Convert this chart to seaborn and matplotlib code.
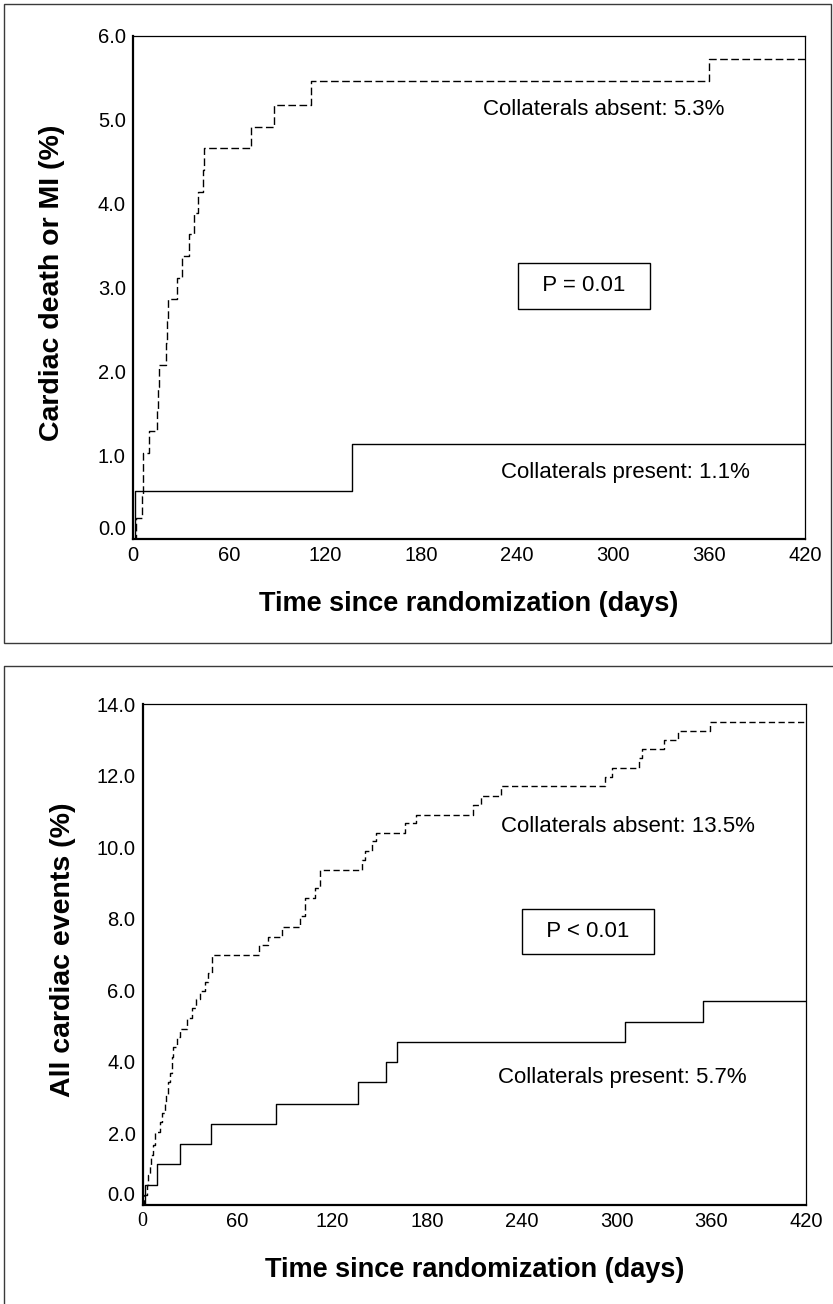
import matplotlib
matplotlib.use("Agg")
import matplotlib.pyplot as plt
import seaborn as sns
import pandas as pd
from matplotlib.patches import Rectangle
from matplotlib.lines import Line2D

# panel A: cardiac death or MI, cumulative %
mi_absent_days = [0, 1.9, 5.5, 6.0, 6.4, 10.2, 14.8, 15.6, 16.4, 20.8, 21.2, 21.7, 27.3, 30.6,
                  35.0, 38.0, 40.4, 44.0, 44.6, 74.0, 88.0, 111.0, 360.0, 420]
mi_absent_pct = [0, 0.25, 0.51, 0.77, 1.02, 1.29, 1.55, 1.81, 2.08, 2.34, 2.60, 2.86, 3.11, 3.38,
                 3.64, 3.89, 4.14, 4.40, 4.66, 4.92, 5.18, 5.46, 5.72, 5.72]
mi_present_days = [0, 1.2, 137.0, 420]
mi_present_pct = [0, 0.57, 1.13, 1.13]

# panel B: all cardiac events, cumulative %
all_absent_days = [0, 1.0, 2.5, 3.5, 4.6, 5.5, 6.5, 7.8, 10.9, 12.5, 14.0, 15.0, 16.2, 17.0, 18.3,
                   19.5, 21.5, 23.6, 27.8, 31.0, 33.5, 36.2, 39.4, 41.5, 43.6, 44.2, 73.7, 79.4,
                   88.4, 99.4, 102.7, 108.8, 112.4, 139.0, 141.0, 145.0, 147.8, 166.0, 173.0,
                   209.0, 214.0, 227.0, 293.0, 297.0, 314.0, 316.0, 330.0, 339.0, 359.5, 420]
all_absent_pct = [0, 0.28, 0.56, 0.84, 1.12, 1.40, 1.68, 2.04, 2.32, 2.56, 2.83, 3.10, 3.44, 3.70, 4.14,
                  4.42, 4.70, 4.92, 5.22, 5.50, 5.75, 5.98, 6.24, 6.48, 6.74, 6.99, 7.27, 7.50,
                  7.78, 8.08, 8.58, 8.86, 9.37, 9.65, 9.88, 10.16, 10.40, 10.68, 10.90,
                  11.19, 11.44, 11.70, 11.97, 12.20, 12.50, 12.75, 12.99, 13.24, 13.50, 13.50]
all_present_days = [0, 1.5, 9.2, 23.6, 43.2, 84.6, 136.6, 154.0, 160.8, 305.3, 354.8, 420]
all_present_pct = [0, 0.55, 1.15, 1.71, 2.27, 2.83, 3.44, 4.00, 4.56, 5.12, 5.71, 5.71]

x_ticks = [0, 60, 120, 180, 240, 300, 360, 420]
mi_yticks = [0, 1, 2, 3, 4, 5, 6]
all_yticks = [0, 2, 4, 6, 8, 10, 12, 14]

sns.set_theme(style="white")
plt.rcParams["font.family"] = ["Liberation Sans", "DejaVu Sans"]
plt.rcParams.update({"text.color": "black", "axes.labelcolor": "black",
                     "xtick.color": "black", "ytick.color": "black"})


def make_df(a_days, a_pct, p_days, p_pct):
    a = pd.DataFrame({"day": a_days, "pct": a_pct, "group": "absent"})
    p = pd.DataFrame({"day": p_days, "pct": p_pct, "group": "present"})
    return pd.concat([a, p], ignore_index=True)


def draw_panel(ax, df, yticks, ymax, ylabel, dash, notes, ptext, ppos):
    sns.lineplot(data=df, x="day", y="pct", style="group", style_order=["absent", "present"],
                 dashes={"absent": dash, "present": ""}, color="black", lw=1.0,
                 drawstyle="steps-post", estimator=None, sort=False, legend=False, ax=ax)
    ax.set_xlim(0, 420)
    ax.set_ylim(0, ymax)
    ax.set_xticks(x_ticks, [str(t) for t in x_ticks])
    ax.set_yticks(yticks, ["%.1f" % t for t in yticks])
    ax.tick_params(direction="out", length=2.2, width=1.6, colors="black",
                   labelsize=14.5, pad=3)
    for side in ["left", "bottom"]:
        ax.spines[side].set_linewidth(1.6)
    for side in ["top", "right"]:
        ax.spines[side].set_linewidth(0.9)
    for s in ax.spines.values():
        s.set_color("black")
    ax.get_yticklabels()[0].set_verticalalignment("bottom")
    ax.set_xlabel("Time since randomization (days)", fontsize=19.5, fontweight="bold")
    ax.set_ylabel(ylabel, fontsize=20.5, fontweight="bold")
    ax.xaxis.set_label_coords(0.5, -0.13)
    ax.xaxis.label.set_verticalalignment("center")
    ax.yaxis.set_label_coords(-0.12, 0.51)
    ax.yaxis.label.set_verticalalignment("center")
    for (tx, ty, s) in notes:
        ax.text(tx, ty, s, ha="center", va="center", fontsize=16)
    ax.text(ppos[0], ppos[1], ptext, ha="center", va="center", fontsize=16,
            bbox=dict(boxstyle="square,pad=0.55", fc="white", ec="black", lw=1.0))


fig = plt.figure(figsize=(8.33, 13.04), dpi=100)
ax1 = fig.add_axes([0.1597, 0.5867, 0.8067, 0.3857])
ax2 = fig.add_axes([0.1713, 0.0759, 0.7963, 0.3842])

draw_panel(ax1, make_df(mi_absent_days, mi_absent_pct, mi_present_days, mi_present_pct),
           mi_yticks, 6, "Cardiac death or MI (%)", (5.5, 2.5),
           [(294, 5.12, "Collaterals absent: 5.3%"), (308, 0.79, "Collaterals present: 1.1%")],
           "  P = 0.01  ", (282, 3.02))
draw_panel(ax2, make_df(all_absent_days, all_absent_pct, all_present_days, all_present_pct),
           all_yticks, 14, "All cardiac events (%)", (4.5, 2.5),
           [(307, 10.57, "Collaterals absent: 13.5%"), (304, 3.57, "Collaterals present: 5.7%")],
           "  P < 0.01  ", (282, 7.65))
ax2.get_xticklabels()[0].set_fontfamily("Liberation Serif")

W, H = 833, 1304
fig.add_artist(Rectangle((4 / W, 1 - 643 / H), 827 / W, 639 / H, transform=fig.transFigure,
                         fill=False, ec="#3a3a3a", lw=1.0))
fig.add_artist(Line2D([4 / W, 4 / W, 1], [0, 1 - 666 / H, 1 - 666 / H],
                      transform=fig.transFigure, color="#3a3a3a", lw=1.0))

fig.savefig("out.png", dpi=100, facecolor="white")
